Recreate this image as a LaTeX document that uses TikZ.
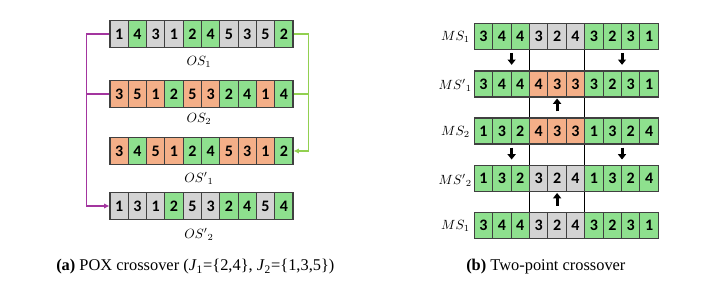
\documentclass[tikz,border=0pt]{standalone}
\usepackage{fontspec}
\setmainfont{Liberation Serif}
\newfontfamily\cellfont{Carlito}
\usepackage{tikz}
\usetikzlibrary{arrows.meta,calc}
\definecolor{Grey}{HTML}{D3D3D3}
\definecolor{Green}{HTML}{8EE08E}
\definecolor{Orange}{HTML}{F4AF88}
\definecolor{Edge}{HTML}{404040}
\definecolor{Purple}{HTML}{A3359F}
\definecolor{Lime}{HTML}{92D050}
\tikzset{
  cell/.style={draw=Edge,line width=0.8pt,inner sep=0pt,minimum width=13.75pt,
    minimum height=20pt,font=\cellfont\bfseries\fontsize{12}{12}\selectfont},
  mcell/.style={cell,minimum width=13.8pt,minimum height=19.5pt},
  rowlabel/.style={inner sep=0pt,font=\fontsize{10}{10}\selectfont},
  caption/.style={inner sep=0pt,anchor=west,font=\fontsize{12.3}{14}\selectfont},
  link/.style={line width=1.1pt,-{Latex[length=4pt,width=4pt]}},
  blockarrow/.style={line width=2.2pt,-{Triangle[length=4pt,width=6pt]}},
  cut/.style={line width=0.8pt}
}
\begin{document}
\begin{tikzpicture}[x=0.75pt,y=-0.75pt]
  \useasboundingbox (0,0) rectangle (718,282);
  % (a) POX crossover
  \foreach \d/\c [count=\i] in {1/Grey,4/Green,3/Grey,1/Grey,2/Green,4/Green,5/Grey,3/Grey,5/Grey,2/Green}
    \node[cell,fill=\c] (os1-\i) at ({110+(\i-0.5)*18.3},34) {\d};
  \foreach \d/\c [count=\i] in {3/Orange,5/Orange,1/Orange,2/Green,5/Orange,3/Orange,2/Green,4/Green,1/Orange,4/Green}
    \node[cell,fill=\c] (os2-\i) at ({110+(\i-0.5)*18.3},94) {\d};
  \foreach \d/\c [count=\i] in {3/Orange,4/Green,5/Orange,1/Orange,2/Green,4/Green,5/Orange,3/Orange,1/Orange,2/Green}
    \node[cell,fill=\c] (os3-\i) at ({110+(\i-0.5)*18.3},151) {\d};
  \foreach \d/\c [count=\i] in {1/Grey,3/Grey,1/Grey,2/Green,5/Grey,3/Grey,2/Green,4/Green,5/Grey,4/Green}
    \node[cell,fill=\c] (os4-\i) at ({110+(\i-0.5)*18.3},206) {\d};
  \node[rowlabel] (os1-lbl) at (199,62) {$OS_1$};
  \node[rowlabel] (os2-lbl) at (199,119) {$OS_2$};
  \node[rowlabel] (os3-lbl) at (199,178) {$OS'{}_1$};
  \node[rowlabel] (os4-lbl) at (199,234) {$OS'{}_2$};
  \draw[link,Purple] (os1-1.west) -- ++(-23,0) |- (os4-1.west);
  \draw[link,-,Purple] (os2-1.west) -- ++(-23,0);
  \draw[link,Lime] (os1-10.east) -- ++(15,0) |- (os3-10.east);
  \draw[link,-,Lime] (os2-10.east) -- ++(15,0);
  % (b) two-point crossover
  \draw[cut] (529.5,49) -- (529.5,213);
  \draw[cut] (584.7,49) -- (584.7,213);
  \foreach \d/\c [count=\i] in {3/Green,4/Green,4/Green,3/Grey,2/Grey,4/Grey,3/Green,2/Green,3/Green,1/Green}
    \node[mcell,fill=\c] (ms1-\i) at ({474.3+(\i-0.5)*18.4},36.3) {\d};
  \foreach \d/\c [count=\i] in {3/Green,4/Green,4/Green,4/Orange,3/Orange,3/Orange,3/Green,2/Green,3/Green,1/Green}
    \node[mcell,fill=\c] (ms2-\i) at ({474.3+(\i-0.5)*18.4},84) {\d};
  \foreach \d/\c [count=\i] in {1/Green,3/Green,2/Green,4/Orange,3/Orange,3/Orange,1/Green,3/Green,2/Green,4/Green}
    \node[mcell,fill=\c] (ms3-\i) at ({474.3+(\i-0.5)*18.4},131) {\d};
  \foreach \d/\c [count=\i] in {1/Green,3/Green,2/Green,3/Grey,2/Grey,4/Grey,1/Green,3/Green,2/Green,4/Green}
    \node[mcell,fill=\c] (ms4-\i) at ({474.3+(\i-0.5)*18.4},178.7) {\d};
  \foreach \d/\c [count=\i] in {3/Green,4/Green,4/Green,3/Grey,2/Grey,4/Grey,3/Green,2/Green,3/Green,1/Green}
    \node[mcell,fill=\c] (ms5-\i) at ({474.3+(\i-0.5)*18.4},225.5) {\d};
  \node[rowlabel,anchor=east] (ms1-lbl) at (470,37) {$MS_1$};
  \node[rowlabel,anchor=east] (ms2-lbl) at (472,85) {$MS'{}_1$};
  \node[rowlabel,anchor=east] (ms3-lbl) at (470,132) {$MS_2$};
  \node[rowlabel,anchor=east] (ms4-lbl) at (472,180) {$MS'{}_2$};
  \node[rowlabel,anchor=east] (ms5-lbl) at (470,226) {$MS_1$};
  \draw[blockarrow] ($(ms1-2.south east)+(0,3)$) -- ($(ms1-2.south east)+(0,15)$);
  \draw[blockarrow] ($(ms1-8.south east)+(0,3)$) -- ($(ms1-8.south east)+(0,15)$);
  \draw[blockarrow] ($(ms3-5.north)+(0,-6)$) -- ($(ms3-5.north)+(0,-19)$);
  \draw[blockarrow] ($(ms3-2.south east)+(0,3)$) -- ($(ms3-2.south east)+(0,15)$);
  \draw[blockarrow] ($(ms3-8.south east)+(0,3)$) -- ($(ms3-8.south east)+(0,15)$);
  \draw[blockarrow] ($(ms5-5.north)+(0,-6)$) -- ($(ms5-5.north)+(0,-19)$);
  % captions
  \node[caption] (cap-a) at (56,267) {\textbf{(a)} POX crossover (\textit{J}\textsubscript{1}=\{2,4\}, \textit{J}\textsubscript{2}=\{1,3,5\})};
  \node[caption] (cap-b) at (466,267) {\textbf{(b)} Two-point crossover};
\end{tikzpicture}
\end{document}
